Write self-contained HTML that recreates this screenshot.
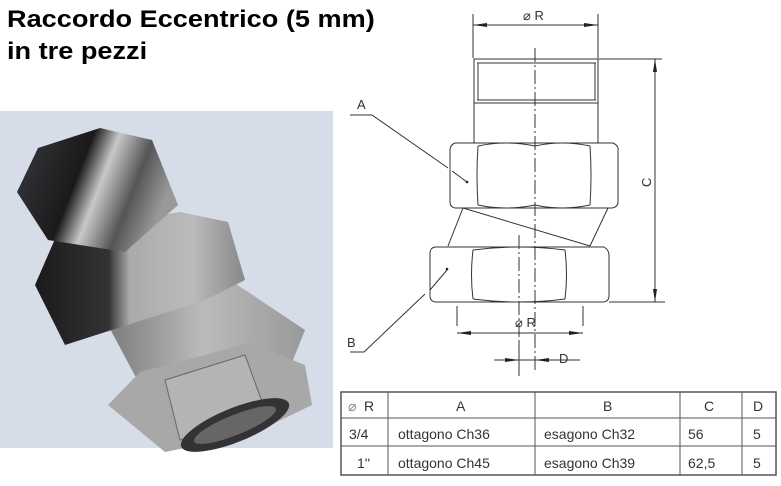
<!DOCTYPE html>
<html><head><meta charset="utf-8"><style>
html,body{margin:0;padding:0;background:#fff;width:781px;height:486px;overflow:hidden}
.t{position:absolute;left:7px;font:bold 24px "Liberation Sans",sans-serif;color:#000;transform-origin:0 0;transform:scaleX(1.13);white-space:nowrap}
svg{position:absolute;left:0;top:0}
</style></head><body>
<div class="t" style="top:6px">Raccordo Eccentrico (5 mm)</div>
<div class="t" style="top:38px">in tre pezzi</div>
<svg width="781" height="486" viewBox="0 0 781 486" font-family="Liberation Sans, sans-serif">
<defs>
<linearGradient id="thr" x1="0" y1="0" x2="1" y2="0.3"><stop offset="0" stop-color="#3a3a40"/><stop offset="0.45" stop-color="#1a1a1a"/><stop offset="0.6" stop-color="#c8c8c8"/><stop offset="0.8" stop-color="#555"/><stop offset="1" stop-color="#999"/></linearGradient>
<linearGradient id="nutA" x1="0" y1="0" x2="1" y2="0"><stop offset="0" stop-color="#1a1a1a"/><stop offset="0.35" stop-color="#333"/><stop offset="0.45" stop-color="#aaa"/><stop offset="0.75" stop-color="#bbb"/><stop offset="1" stop-color="#888"/></linearGradient>
<linearGradient id="body" x1="0" y1="0" x2="1" y2="0"><stop offset="0" stop-color="#777"/><stop offset="0.5" stop-color="#bbb"/><stop offset="1" stop-color="#999"/></linearGradient>
</defs>
<rect x="0" y="111" width="333" height="337" fill="#d6dde9"/>
<polygon points="100,310 230,280 305,330 285,380 140,385" fill="url(#body)"/>
<polygon points="108,405 140,372 250,343 305,365 312,405 250,435 165,452" fill="#a8a8a8"/>
<polygon points="165,380 245,355 265,410 180,440" fill="#b4b4b4" stroke="#666" stroke-width="1"/>
<ellipse cx="235" cy="425" rx="58" ry="17" transform="rotate(-22 235 425)" fill="#333"/>
<ellipse cx="235" cy="425" rx="44" ry="10" transform="rotate(-22 235 425)" fill="#666"/>
<polygon points="35,285 58,232 180,212 228,222 245,280 205,300 65,345" fill="url(#nutA)"/>
<polygon points="17,192 38,148 100,128 152,140 178,205 125,252 48,240" fill="url(#thr)"/>
<g stroke="#333" fill="none" stroke-width="1">
<line x1="473" y1="14" x2="473" y2="58"/><line x1="598" y1="14" x2="598" y2="58"/>
<line x1="473" y1="25" x2="598" y2="25"/>
<line x1="535" y1="48" x2="535" y2="372" stroke-dasharray="14,3,2,3"/>
<rect x="474" y="59" width="124" height="44"/>
<line x1="477" y1="63" x2="596" y2="63"/><line x1="477" y1="100" x2="596" y2="100"/>
<line x1="478" y1="63" x2="478" y2="100"/><line x1="595" y1="63" x2="595" y2="100"/>
<line x1="474" y1="103" x2="474" y2="143"/><line x1="598" y1="103" x2="598" y2="143"/>
<path d="M455,143 H613 Q619,146 618,150 V202 Q618,207 612,208 H455 Q450,207 450,202 V150 Q450,145 455,143Z"/>
<path d="M478,146 Q476,175 478,205 M590,146 Q592,175 590,205"/>
<path d="M478,146 Q506,140 535,146 Q562,140 590,146 M478,205 Q506,211 535,205 Q562,211 590,205"/>
<line x1="463" y1="208" x2="448" y2="246"/><line x1="608" y1="208" x2="590" y2="246"/>
<line x1="463" y1="208" x2="590" y2="246"/>
<path d="M435,247 H604 Q609,250 609,255 V296 Q609,301 604,302 H435 Q430,301 430,296 V253 Q430,248 435,247Z"/>
<path d="M473,250 Q470,275 473,299 M565,250 Q568,275 565,299"/>
<path d="M473,250 Q519,244 565,250 M473,299 Q519,305 565,299"/>
<line x1="519" y1="235" x2="519" y2="375" stroke-dasharray="14,3,2,3"/>
<line x1="598" y1="59" x2="662" y2="59"/><line x1="609" y1="302" x2="665" y2="302"/>
<line x1="655" y1="59" x2="655" y2="302"/>
<line x1="457" y1="306" x2="457" y2="326"/><line x1="583" y1="306" x2="583" y2="326"/>
<line x1="457" y1="333" x2="583" y2="333"/>
<line x1="494" y1="360" x2="580" y2="360"/>
<line x1="519" y1="340" x2="519" y2="376"/>
<polyline points="350,115 372,115 448,168"/><line x1="452" y1="171" x2="467" y2="182"/>
<polyline points="350,352 364,352 425,294"/><line x1="430" y1="290" x2="447" y2="270"/>
</g>
<g fill="#222">
<polygon points="473,25 487,23 487,27"/><polygon points="598,25 584,23 584,27"/>
<polygon points="655,59 653,72 657,72"/><polygon points="655,302 653,289 657,289"/>
<polygon points="457,333 471,331 471,335"/><polygon points="583,333 569,331 569,335"/>
<polygon points="519,360 505,358 505,362"/><polygon points="535,360 549,358 549,362"/>
<circle cx="467" cy="182" r="1.3"/><circle cx="447" cy="269" r="1.3"/>
</g>
<g font-size="13" fill="#333">
<text x="523" y="20">⌀ R</text>
<text x="515" y="327">⌀ R</text>
<text x="357" y="109">A</text>
<text x="347" y="347">B</text>
<text x="559" y="363">D</text>
<text x="0" y="0" transform="translate(651,187) rotate(-90)">C</text>
</g>
<g stroke="#555" fill="none">
<rect x="341" y="392" width="435" height="83" stroke-width="1.5"/>
<line x1="341" y1="418" x2="776" y2="418"/><line x1="341" y1="446" x2="776" y2="446"/>
<line x1="388" y1="392" x2="388" y2="475"/><line x1="535" y1="392" x2="535" y2="475"/>
<line x1="680" y1="392" x2="680" y2="475"/><line x1="742" y1="392" x2="742" y2="475"/>
</g>
<g font-size="14" fill="#333">
<text x="348" y="411" fill="#888">⌀</text><text x="364" y="411">R</text>
<text x="456" y="411">A</text><text x="603" y="411">B</text>
<text x="704" y="411">C</text><text x="753" y="411">D</text>
<text x="349" y="439">3/4</text><text x="398" y="439">ottagono Ch36</text>
<text x="544" y="439">esagono Ch32</text><text x="688" y="439">56</text><text x="753" y="439">5</text>
<text x="357" y="468">1''</text><text x="398" y="468">ottagono Ch45</text>
<text x="544" y="468">esagono Ch39</text><text x="688" y="468">62,5</text><text x="753" y="468">5</text>
</g>
</svg>
</body></html>
